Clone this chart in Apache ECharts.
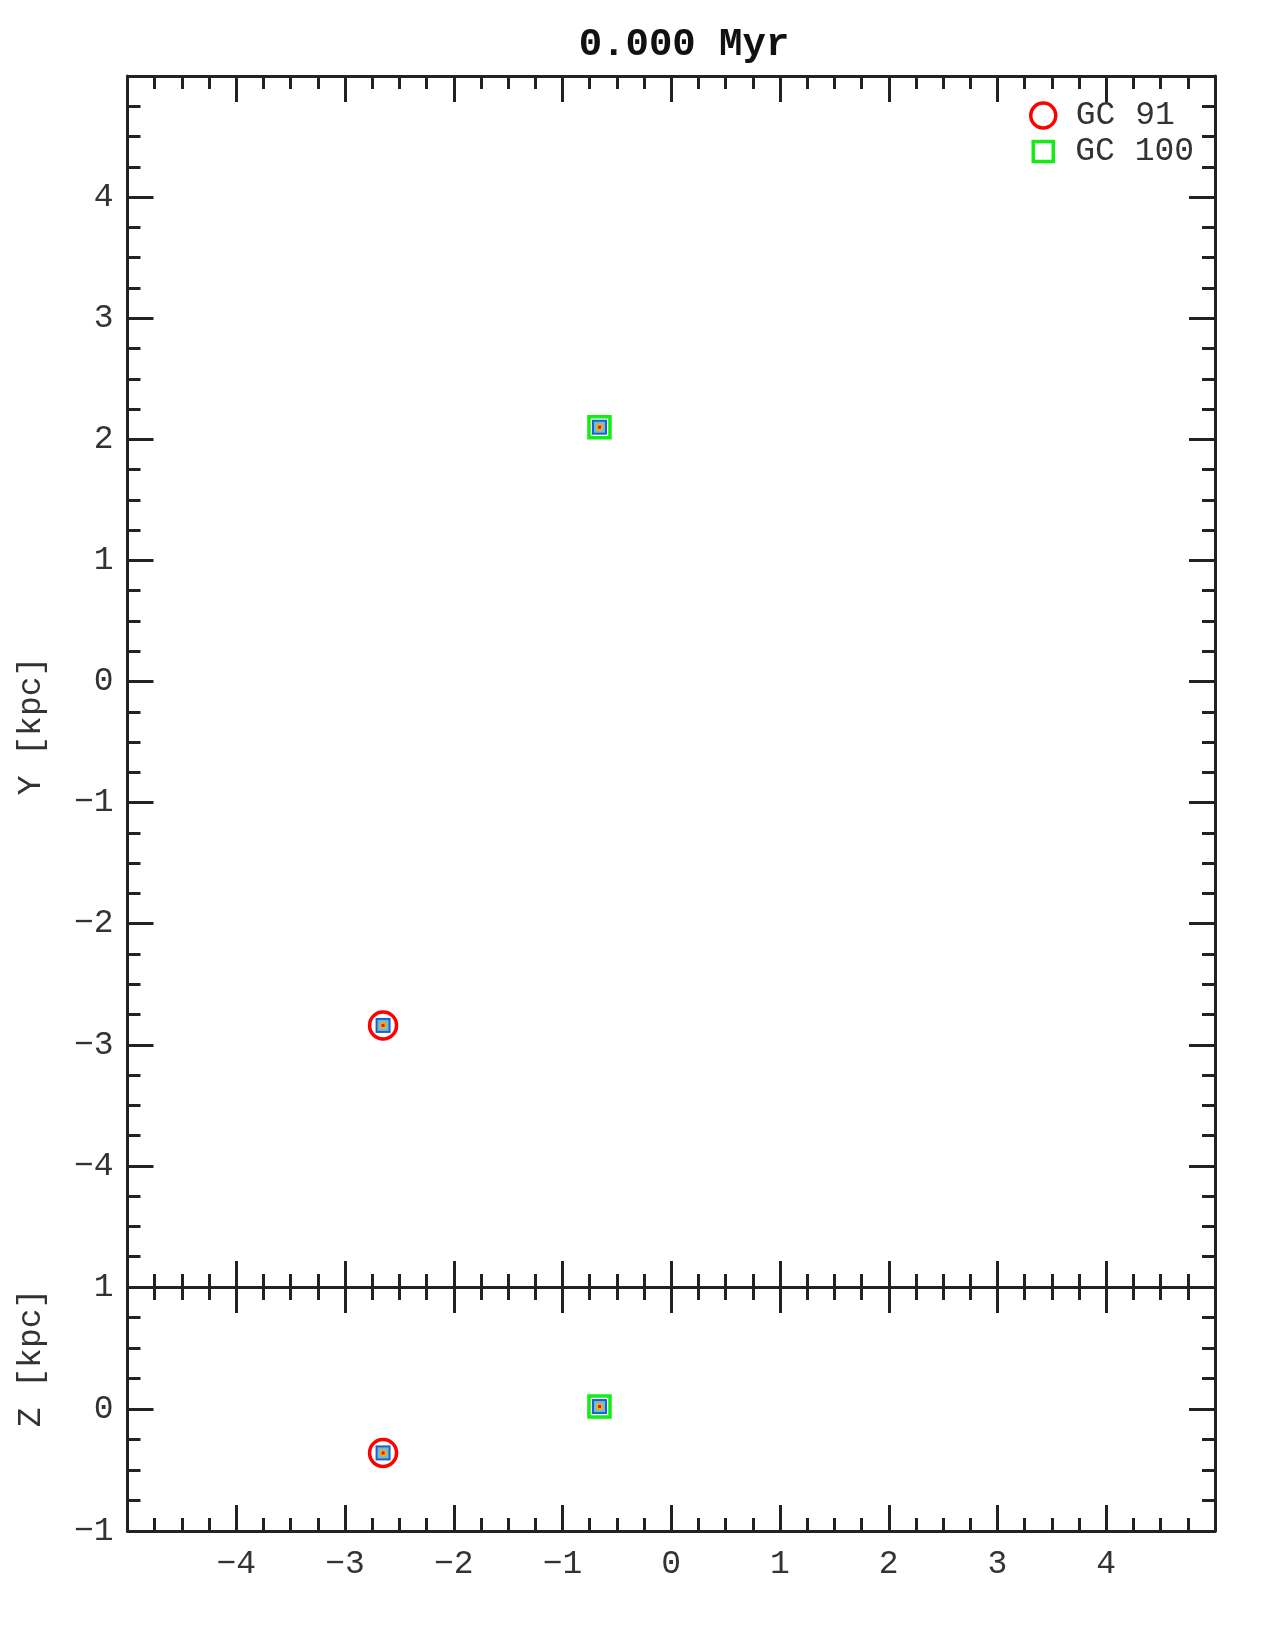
<!DOCTYPE html>
<html><head><meta charset="utf-8">
<script src="https://cdn.jsdelivr.net/npm/echarts@6/dist/echarts.min.js"></script>
<style>html,body{margin:0;padding:0;background:#fff}#c{width:1280px;height:1638px}</style>
</head><body><div id="c"></div>
<script>
// ---- data ----
const titleText = '0.000 Myr';
const clusterNames = ['GC 91', 'GC 100'];
const clusterX = [-2.65, -0.66];
const clusterY = [-2.84, 2.10];
const clusterZ = [-0.36, 0.02];
const yAxisTitle = 'Y [kpc]';
const zAxisTitle = 'Z [kpc]';
const xRange = [-5, 5];
const yRange = [-5, 5];
const zRange = [-1, 1];

// ---- style ----
const FONT = 'Liberation Mono, Courier New, monospace';
const INK = '#222';
const TXT = '#333';
const clusterSymbols = ['circle', 'rect'];
const clusterSizes = [27, 21];
const clusterColors = ['#ff0000', '#11ee11'];
const coreSizes = [15, 11, 7, 3];
const coreColors = ['#1f5fc8', '#5cc0ec', '#f5a623', '#d0200c'];

const fmt = v => v < 0 ? '\u2212' + Math.abs(v) : String(v);

function axisBase(extra) {
  return Object.assign({
    type: 'value', interval: 1,
    axisLine: { show: true, onZero: false, lineStyle: { color: INK, width: 3 } },
    axisTick: { show: true, inside: true, length: 26, lineStyle: { color: INK, width: 3 } },
    minorTick: { show: true, splitNumber: 4, length: 13, lineStyle: { color: INK, width: 3 } },
    splitLine: { show: false },
    axisLabel: { show: false }
  }, extra);
}
const labelStyle = (margin) => ({
  show: true, fontFamily: FONT, fontSize: 33, color: TXT, margin: margin,
  formatter: fmt, showMinLabel: false, showMaxLabel: false
});

const series = [];
clusterNames.forEach((name, i) => {
  coreSizes.forEach((s, k) => {
    series.push({
      name: 'core' + i + '_' + k + '_xy', type: 'scatter', xAxisIndex: 0, yAxisIndex: 0,
      symbol: 'rect', symbolSize: s, silent: true,
      itemStyle: { color: coreColors[k], opacity: 1 },
      data: [[clusterX[i], clusterY[i]]]
    });
    series.push({
      name: 'core' + i + '_' + k + '_xz', type: 'scatter', xAxisIndex: 2, yAxisIndex: 2,
      symbol: 'rect', symbolSize: s, silent: true,
      itemStyle: { color: coreColors[k], opacity: 1 },
      data: [[clusterX[i], clusterZ[i]]]
    });
  });
});
clusterNames.forEach((name, i) => {
  const st = { color: 'rgba(0,0,0,0)', borderColor: clusterColors[i], borderWidth: 3.5, opacity: 1 };
  series.push({
    name: name, type: 'scatter', xAxisIndex: 0, yAxisIndex: 0,
    symbol: clusterSymbols[i], symbolSize: clusterSizes[i], itemStyle: st,
    data: [[clusterX[i], clusterY[i]]]
  });
  series.push({
    name: name, type: 'scatter', xAxisIndex: 2, yAxisIndex: 2,
    symbol: clusterSymbols[i], symbolSize: clusterSizes[i], itemStyle: st,
    data: [[clusterX[i], clusterZ[i]]]
  });
});

const legendText = (pad) => ({ fontFamily: FONT, fontSize: 33, color: TXT, lineHeight: 33, padding: [0, 0, 0, pad] });

const option = {
  backgroundColor: '#fff',
  animation: false,
  title: {
    text: titleText, left: 679, top: 21, textAlign: 'center',
    textStyle: { fontFamily: FONT, fontWeight: 'bold', fontSize: 39, color: '#111' }
  },
  legend: [
    { data: [{ name: clusterNames[0], icon: 'circle',
        itemStyle: { color: 'rgba(0,0,0,0)', borderColor: clusterColors[0], borderWidth: 3.5, opacity: 1 } }],
      left: 1024, top: 94, itemWidth: 25, itemHeight: 25,
      selectedMode: false, textStyle: legendText(15) },
    { data: [{ name: clusterNames[1], icon: 'rect',
        itemStyle: { color: 'rgba(0,0,0,0)', borderColor: clusterColors[1], borderWidth: 3.5, opacity: 1 } }],
      left: 1026.5, top: 130, itemWidth: 20, itemHeight: 20,
      selectedMode: false, textStyle: legendText(17) }
  ],
  grid: [
    { left: 127.5, top: 76, width: 1087.5, height: 1211 },
    { left: 127.5, top: 1287, width: 1087.5, height: 244 }
  ],
  xAxis: [
    axisBase({ gridIndex: 0, position: 'bottom', min: xRange[0], max: xRange[1] }),
    axisBase({ gridIndex: 0, position: 'top', min: xRange[0], max: xRange[1] }),
    axisBase({ gridIndex: 1, position: 'bottom', min: xRange[0], max: xRange[1], axisLabel: labelStyle(17) }),
    axisBase({ gridIndex: 1, position: 'top', min: xRange[0], max: xRange[1] })
  ],
  yAxis: [
    axisBase({ gridIndex: 0, position: 'left', min: yRange[0], max: yRange[1], axisLabel: labelStyle(14) }),
    axisBase({ gridIndex: 0, position: 'right', min: yRange[0], max: yRange[1] }),
    axisBase({ gridIndex: 1, position: 'left', min: zRange[0], max: zRange[1],
      axisLabel: Object.assign(labelStyle(14), { showMinLabel: true, showMaxLabel: true }) }),
    axisBase({ gridIndex: 1, position: 'right', min: zRange[0], max: zRange[1] })
  ],
  graphic: [
    { type: 'text', x: 31, y: 726, rotation: Math.PI / 2,
      style: { text: yAxisTitle, fontFamily: FONT, fontSize: 33, fill: TXT, align: 'center', verticalAlign: 'middle' } },
    { type: 'text', x: 31, y: 1358, rotation: Math.PI / 2,
      style: { text: zAxisTitle, fontFamily: FONT, fontSize: 33, fill: TXT, align: 'center', verticalAlign: 'middle' } }
  ],
  series: series
};
const chart = echarts.init(document.getElementById('c'), null, { renderer: 'canvas' });
chart.setOption(option);
</script>
</body></html>
